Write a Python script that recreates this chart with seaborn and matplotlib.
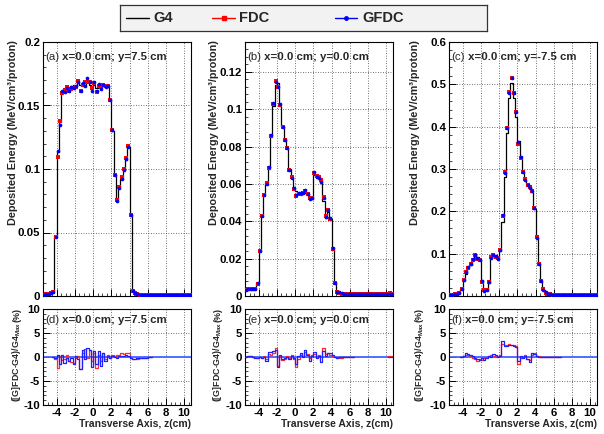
import numpy as np
import pandas as pd
import matplotlib
matplotlib.use("Agg")
import matplotlib.pyplot as plt
import seaborn as sns
from matplotlib.ticker import MultipleLocator, FuncFormatter

sns.set_theme(style="white")
plt.rcParams["font.family"] = ["Liberation Sans", "DejaVu Sans"]
plt.rcParams["font.weight"] = "bold"
plt.rcParams["axes.unicode_minus"] = False
plt.rcParams["mathtext.fontset"] = "custom"
plt.rcParams["mathtext.rm"] = "Liberation Sans:bold"
plt.rcParams["mathtext.bf"] = "Liberation Sans:bold"
plt.rcParams["mathtext.default"] = "bf"

# ---------------- data ----------------
bin_start = -5.5
bin_width = 0.25
n_bins = 65
z_edges = bin_start + bin_width * np.arange(n_bins + 1)
z_centers = z_edges[:-1] + bin_width / 2

# G4 deposited energy (MeV/cm^3/proton)
g4_a = [0.0010, 0.0012, 0.0015, 0.0020, 0.0030,
        0.047, 0.113, 0.137, 0.161,
        0.163, 0.164, 0.163, 0.165, 0.166, 0.165, 0.169, 0.166, 0.165, 0.166,
        0.169, 0.166, 0.165, 0.166, 0.164, 0.165, 0.166, 0.165, 0.166, 0.165,
        0.155, 0.130, 0.095, 0.075, 0.085, 0.092, 0.099, 0.107, 0.117, 0.064, 0.005,
        0.003, 0.002, 0.0015] + [0.001] * 22
g4_b = [0.0030, 0.0033, 0.0035, 0.0038, 0.0040,
        0.007, 0.024, 0.043, 0.054, 0.061, 0.068, 0.085, 0.102, 0.113, 0.114,
        0.102, 0.091, 0.084, 0.079, 0.068, 0.063, 0.058, 0.056, 0.055, 0.054,
        0.055, 0.055, 0.054, 0.053, 0.052,
        0.065, 0.064, 0.063, 0.062, 0.051, 0.042, 0.045, 0.041, 0.025, 0.007,
        0.0025, 0.002, 0.0015] + [0.001] * 22
g4_c = [0.003, 0.003, 0.004, 0.005, 0.007,
        0.016, 0.037, 0.053, 0.065, 0.074, 0.086, 0.099, 0.092, 0.088,
        0.037, 0.016, 0.014, 0.031, 0.089, 0.095, 0.092, 0.088, 0.106,
        0.175, 0.280, 0.385, 0.468, 0.503, 0.468, 0.424,
        0.367, 0.327, 0.294, 0.273, 0.264, 0.260, 0.245, 0.205, 0.137, 0.075,
        0.035, 0.015, 0.008, 0.005, 0.004] + [0.003] * 20

# (FDC-G4)/G4max and (GFDC-G4)/G4max in %, first bin index of each run
diff_d_start = 4
fdc_d = [0.0, -0.4, -2.3, 0.3, -0.6, -0.4, 0.4, -0.8, -1.0, -1.2, -0.3, 0.2, -2.5, 0.8,
         1.6, -0.3, 1.5, -0.8, 0.8, -2.2, 0.4, -0.8, 0.8, -0.5, 0.4, -0.3, 0.5, 0.3,
         0.5, 0.4, 0.8, 0.6, 0.9, 0.8, -0.2, -0.5, -0.5, -0.4, -0.3, -0.3, -0.3, -0.2,
         -0.1, -0.1]
gfdc_d = [0.0, -0.3, 0.5, -1.5, 0.4, -1.3, -0.2, -0.9, -0.3, -1.5, 0.3, -0.5, -2.5, 1.5,
          -0.5, 1.8, 1.5, -2.0, 1.3, -1.5, 1.2, -1.8, 0.8, -0.8, 0.2, -0.3, 0.3, 0.0,
          -0.2, 0.2, 0.3, 0.2, 0.5, 0.3, -0.2, -0.4, -0.4, -0.3, -0.3, -0.3, -0.2, -0.2,
          -0.1, -0.1]
diff_e_start = 0
fdc_e = [0.0, 0.2, 0.2, 0.0, -0.1, -0.3, 0.0, -0.2, 0.2, -0.5, 0.6, 0.5, 0.8, 1.8,
         -1.8, 0.3, -0.6, -0.4, 0.2, -0.3, 0.5, -0.5, -2.0, -0.5, 0.5, 0.3, 1.0, 0.6,
         -0.3, 0.4, 0.6, 0.2, 0.5, 0.3, 1.8, 0.6, 0.9, 0.4, 0.2, -0.1, -0.2, -0.3,
         -0.2, -0.1, 0.0, 0.0, 0.0, 0.0]
gfdc_e = [0.0, 0.3, 0.3, 0.0, -0.2, -0.2, 0.0, -0.3, 0.0, -0.8, 1.0, 1.0, 1.2, 1.5,
          -2.0, 0.5, -0.5, -0.3, 0.0, -0.5, 0.3, -0.2, -1.5, 0.3, 0.8, 0.0, 1.5, 0.5,
          -0.8, 0.2, 1.0, -0.3, 0.2, -1.0, 1.2, 0.3, 0.8, 0.8, 0.5, 0.0, -0.2, -0.1,
          -0.1, 0.0, 0.0, 0.0, 0.0, 0.0]
diff_e_tail_start = 63
fdc_e_tail = [0.3, 0.2]
gfdc_e_tail = [0.0, 0.1]
diff_f_start = 5
fdc_f = [0.0, 0.2, 0.5, 0.4, 0.2, -0.2, -0.5, -0.8, -0.4, -0.6, -0.2, 0.1, 0.3, 0.4,
         0.2, 0.0, 0.3, 0.5, 2.8, 2.6, 2.5, 2.8, 2.6, 2.4, 2.2, -1.5, -0.3, 0.0, 0.5,
         -0.5, -0.6, 0.5, 0.8, 0.3, 0.2, 0.1, 0.1, 0.0, 0.0, 0.0, 0.0, 0.0, 0.0, 0.0]
gfdc_f = [0.0, 0.3, 0.8, 0.7, 0.4, 0.2, -0.2, -0.5, -0.6, -0.3, -0.7, -0.2, 0.2, 0.0,
          0.6, 0.4, 0.0, 0.3, 3.4, 2.3, 2.3, 2.4, 2.6, 2.2, 2.0, -0.8, 0.3, -0.3, 0.2,
          -0.4, -1.0, 0.8, 0.7, 0.2, 0.0, 0.1, 0.0, 0.1, 0.0, 0.0, 0.0, 0.0, 0.0, 0.0]

panel_tags_top = ["(a)", "(b)", "(c)"]
panel_tags_low = ["(d)", "(e)", "(f)"]
panel_pos = [" x=0.0 cm; y=7.5 cm", " x=0.0 cm; y=0.0 cm", " x=0.0 cm; y=-7.5 cm"]
legend_labels = ["G4", "FDC", "GFDC"]
x_ticks = [-4, -2, 0, 2, 4, 6, 8, 10]

# ---------------- layout ----------------
W, H = 604, 434
fig = plt.figure(figsize=(W / 100, H / 100), dpi=100)
fig.patch.set_facecolor("white")


def rect(l, t, w, h):
    return [l / W, 1 - (t + h) / H, w / W, h / H]


RED = "#ff0000"
BLUE = "#0000ff"
GRIDC = "#444444"


def style_axes(ax, ymaj, ymin_, show_xlabels):
    ax.set_facecolor("white")
    for s in ax.spines.values():
        s.set_visible(True)
        s.set_color("black")
        s.set_linewidth(0.8)
    ax.set_xlim(-5.5, 10.75)
    ax.xaxis.set_major_locator(matplotlib.ticker.FixedLocator(x_ticks))
    ax.xaxis.set_minor_locator(MultipleLocator(0.5))
    ax.yaxis.set_major_locator(MultipleLocator(ymaj))
    ax.yaxis.set_minor_locator(MultipleLocator(ymin_))
    ax.yaxis.set_major_formatter(FuncFormatter(lambda v, p: f"{round(v, 5):g}"))
    ax.xaxis.set_major_formatter(FuncFormatter(lambda v, p: f"{v:g}"))
    ax.tick_params(axis="both", which="major", direction="in", length=5, width=0.7,
                   labelsize=8.2, pad=2, colors="black", bottom=True, left=True)
    ax.tick_params(axis="both", which="minor", direction="in", length=2.5, width=0.6,
                   bottom=True, left=True)
    ax.tick_params(axis="x", labelbottom=show_xlabels)
    ax.grid(True, which="major", linestyle=(0, (1, 2)), color=GRIDC, linewidth=0.6)
    ax.set_xlabel("")
    ax.set_ylabel("")


def panel_label(ax, tag, rest, y):
    t1 = ax.text(0.015, y, tag, transform=ax.transAxes, fontsize=8.2,
                 fontweight="normal", va="center", ha="left")
    ax.annotate(rest, xy=(1, 0.5), xycoords=t1, fontsize=8.2, fontweight="bold",
                va="center", ha="left")


def full_diff(start, vals):
    d = np.zeros(n_bins)
    d[start:start + len(vals)] = vals
    return d


def step_df(start, vals):
    e = z_edges[start:start + len(vals) + 1]
    v = list(vals) + [vals[-1]]
    return pd.DataFrame({"z": e, "v": v})


tops = [g4_a, g4_b, g4_c]
ymaxs = [0.2, 0.136, 0.6]
ymajs = [0.05, 0.02, 0.1]
ymins = [0.01, 0.004, 0.02]
lefts = [43, 245, 449]
diff_sets = [
    [(diff_d_start, fdc_d, gfdc_d)],
    [(diff_e_start, fdc_e, gfdc_e), (diff_e_tail_start, fdc_e_tail, gfdc_e_tail)],
    [(diff_f_start, fdc_f, gfdc_f)],
]
ylab_x_top = [13, 214, 415]
ylab_x_low = [17, 218, 419]

for i in range(3):
    left = lefts[i]
    g4 = np.array(tops[i])
    g4max = g4.max()
    fdc_full = np.zeros(n_bins)
    gfdc_full = np.zeros(n_bins)
    for (st, fv, gv) in diff_sets[i]:
        fdc_full += full_diff(st, fv)
        gfdc_full += full_diff(st, gv)
    fdc_top = g4 + fdc_full * g4max / 100.0
    gfdc_top = g4 + gfdc_full * g4max / 100.0

    ax = fig.add_axes(rect(left, 42, 148, 254))
    df_line = pd.DataFrame({"z": z_edges, "dose": np.append(g4, g4[-1])})
    sns.lineplot(data=df_line, x="z", y="dose", ax=ax, color="black", linewidth=0.9,
                 drawstyle="steps-post", estimator=None, sort=False, zorder=2)
    df_pts = pd.DataFrame({"z": z_centers, "FDC": fdc_top, "GFDC": gfdc_top})
    sns.scatterplot(data=df_pts, x="z", y="FDC", ax=ax, color=RED, marker="s", s=12,
                    linewidth=0, zorder=3)
    sns.scatterplot(data=df_pts, x="z", y="GFDC", ax=ax, color=BLUE, marker="o", s=7,
                    linewidth=0, zorder=4)
    style_axes(ax, ymajs[i], ymins[i], False)
    ax.set_ylim(0, ymaxs[i])
    panel_label(ax, panel_tags_top[i], panel_pos[i], 0.94)
    fig.text(ylab_x_top[i] / W, 1 - 40 / H, "Deposited Energy (MeV/cm\u00b3/proton)",
             rotation=90, ha="center", va="top", fontsize=7.8, fontweight="bold")

    axl = fig.add_axes(rect(left, 309, 148, 96))
    axl.axhline(0, color="#4466ff", linewidth=1.3, zorder=1)
    for (st, fv, gv) in diff_sets[i]:
        sns.lineplot(data=step_df(st, fv), x="z", y="v", ax=axl, color="#ff2a2a",
                     linewidth=0.9, drawstyle="steps-post", estimator=None, sort=False,
                     zorder=2)
        sns.lineplot(data=step_df(st, gv), x="z", y="v", ax=axl, color="#2020ff",
                     linewidth=0.9, drawstyle="steps-post", estimator=None, sort=False,
                     zorder=3)
    style_axes(axl, 5, 1, True)
    axl.set_ylim(-10, 10)
    panel_label(axl, panel_tags_low[i], panel_pos[i], 0.89)
    fig.text(ylab_x_low[i] / W, 1 - 308 / H, "(%)",
             rotation=90, ha="center", va="top", fontsize=6.4, fontweight="bold")
    fig.text(ylab_x_low[i] / W, 1 - 402 / H, r"([G]FDC-G4)/G4$_{Max}$",
             rotation=90, ha="center", va="bottom", fontsize=6.4, fontweight="bold")
    fig.text((left + 148) / W, 1 - 424 / H, "Transverse Axis, z(cm)", ha="right",
             va="center", fontsize=7.5, fontweight="bold")

# ---------------- legend ----------------
lax = fig.add_axes(rect(120, 5, 367, 26))
lax.set_xlim(0, 367)
lax.set_ylim(0, 26)
lax.set_facecolor("#f2f2f2")
for s in lax.spines.values():
    s.set_visible(True)
    s.set_color("#333333")
    s.set_linewidth(0.9)
lax.set_xticks([])
lax.set_yticks([])
leg_items = [(legend_labels[0], "black", None, 6, 29, 33),
             (legend_labels[1], RED, "s", 92, 115, 119),
             (legend_labels[2], BLUE, "o", 215, 237, 242)]
for lab, col, mk, x0, x1, xt in leg_items:
    lax.plot([x0, x1], [13, 13], color=col, linewidth=1.0)
    if mk:
        lax.plot([(x0 + x1) / 2], [13], marker=mk, color=col, markersize=2.5, linewidth=0)
    lax.text(xt, 13, lab, ha="left", va="center", fontsize=10.5, fontweight="bold")

fig.savefig("out.png", dpi=100, facecolor="white")
